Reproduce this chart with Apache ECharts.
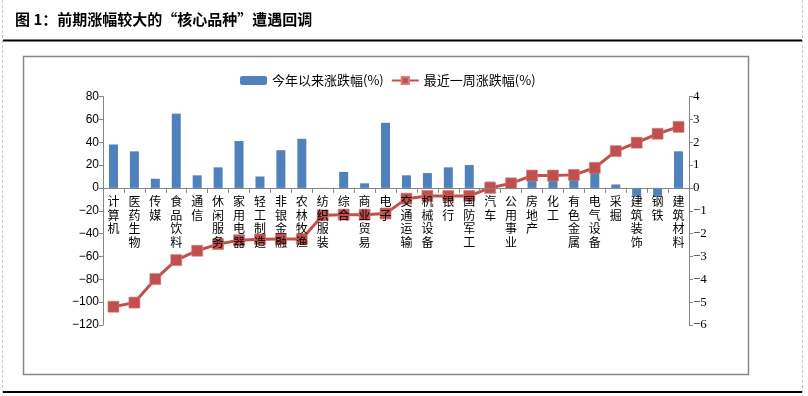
<!DOCTYPE html>
<html><head><meta charset="utf-8">
<script src="https://cdn.jsdelivr.net/npm/echarts@6/dist/echarts.min.js"></script>
<style>html,body{margin:0;padding:0;background:#fff}#c{width:808px;height:396px}</style>
</head><body><div id="c"></div>
<script>
const categories = ['计算机','医药生物','传媒','食品饮料','通信','休闲服务','家用电器','轻工制造','非银金融','农林牧渔','纺织服装','综合','商业贸易','电子','交通运输','机械设备','银行','国防军工','汽车','公用事业','房地产','化工','有色金属','电气设备','采掘','建筑装饰','钢铁','建筑材料'];
const ytdChange = [38,32,8,65,11,18,41,10,33,43,-1,14,4,57,11,13,18,20,5.5,3,10,10,12,15,3,-7,-7,32];
const weekChange = [-5.2,-5.02,-3.99,-3.16,-2.75,-2.46,-2.29,-2.25,-2.24,-2.24,-1.2,-1.17,-1.17,-1.12,-0.47,-0.35,-0.35,-0.35,0,0.2,0.54,0.54,0.57,0.88,1.61,1.98,2.37,2.67];
const seriesNames = ['今年以来涨跌幅(%)','最近一周涨跌幅(%)'];
const titleText = '图 1：前期涨幅较大的“核心品种”遭遇回调';
const leftMin = -120, leftMax = 80;

const chart = echarts.init(document.getElementById('c'));
const axisColor = '#868686';
const minus = v => String(v).replace('-', '−');
const gridTop = 96.5, gridBottom = 71, H = 396;
const innerH = H - gridTop - gridBottom;
const zeroOffset = -innerH * (0 - leftMin) / (leftMax - leftMin);
chart.setOption({
  animation: false,
  backgroundColor: '#fff',
  title: {
    text: titleText, left: 10, top: 7,
    textStyle: {fontFamily: 'Noto Sans CJK SC', fontWeight: 'bold', fontSize: 15, color: '#000'}
  },
  graphic: [
    {type: 'line', shape: {x1: 2.5, y1: 0, x2: 2.5, y2: 396}, style: {stroke: '#c8c8c8', lineDash: [3, 2], lineWidth: 1}},
    {type: 'line', shape: {x1: 802.5, y1: 0, x2: 802.5, y2: 396}, style: {stroke: '#c8c8c8', lineDash: [3, 2], lineWidth: 1}},
    {type: 'line', shape: {x1: 3, y1: 40.5, x2: 802, y2: 40.5}, style: {stroke: '#000', lineWidth: 2}},
    {type: 'line', shape: {x1: 3, y1: 392, x2: 802, y2: 392}, style: {stroke: '#000', lineWidth: 2}},
    {type: 'rect', shape: {x: 23.5, y: 56.5, width: 725, height: 318}, style: {fill: 'none', stroke: '#888', lineWidth: 1.5}}
  ],
  legend: {
    top: 69, left: 235,
    itemGap: 7, itemWidth: 27, itemHeight: 9,
    textStyle: {fontFamily: 'Noto Sans CJK SC', fontSize: 13, color: '#000'},
    data: [{name: seriesNames[0], itemStyle: {color: '#4F81BD'}}, {name: seriesNames[1]}]
  },
  grid: {left: 103, right: 119, top: gridTop, bottom: gridBottom},
  xAxis: {
    type: 'category', data: categories, z: 10, position: 'bottom', offset: zeroOffset,
    axisLine: {onZero: false, lineStyle: {color: axisColor, width: 1}},
    axisTick: {show: true, length: 5, lineStyle: {color: axisColor}},
    axisLabel: {
      interval: 0, margin: 7, fontFamily: 'Noto Sans CJK SC', fontSize: 12, lineHeight: 13.5, color: '#000',
      formatter: v => v.split('').join('\n')
    }
  },
  yAxis: [
    {
      type: 'value', min: leftMin, max: leftMax, interval: 20,
      splitLine: {show: false},
      axisLine: {show: true, lineStyle: {color: axisColor}},
      axisTick: {show: true, length: 4, lineStyle: {color: axisColor}},
      axisLabel: {margin: 4, fontFamily: 'Liberation Sans', fontSize: 12, color: '#000', formatter: minus}
    },
    {
      type: 'value', min: -6, max: 4, interval: 1,
      splitLine: {show: false},
      axisLine: {show: true, lineStyle: {color: axisColor}},
      axisTick: {show: true, length: 4, lineStyle: {color: axisColor}},
      axisLabel: {margin: 4, fontFamily: 'Liberation Serif', fontSize: 13, color: '#000', formatter: minus}
    }
  ],
  series: [
    {
      name: seriesNames[0], type: 'bar', yAxisIndex: 0, data: ytdChange,
      barWidth: 9, itemStyle: {color: '#4F81BD'}
    },
    {
      name: seriesNames[1], type: 'line', yAxisIndex: 1, data: weekChange,
      symbol: 'rect', symbolSize: 11,
      lineStyle: {color: '#C0504D', width: 3},
      itemStyle: {color: '#C0504D', borderColor: '#D27F7D', borderWidth: 0.6}
    }
  ]
});
</script></body></html>
